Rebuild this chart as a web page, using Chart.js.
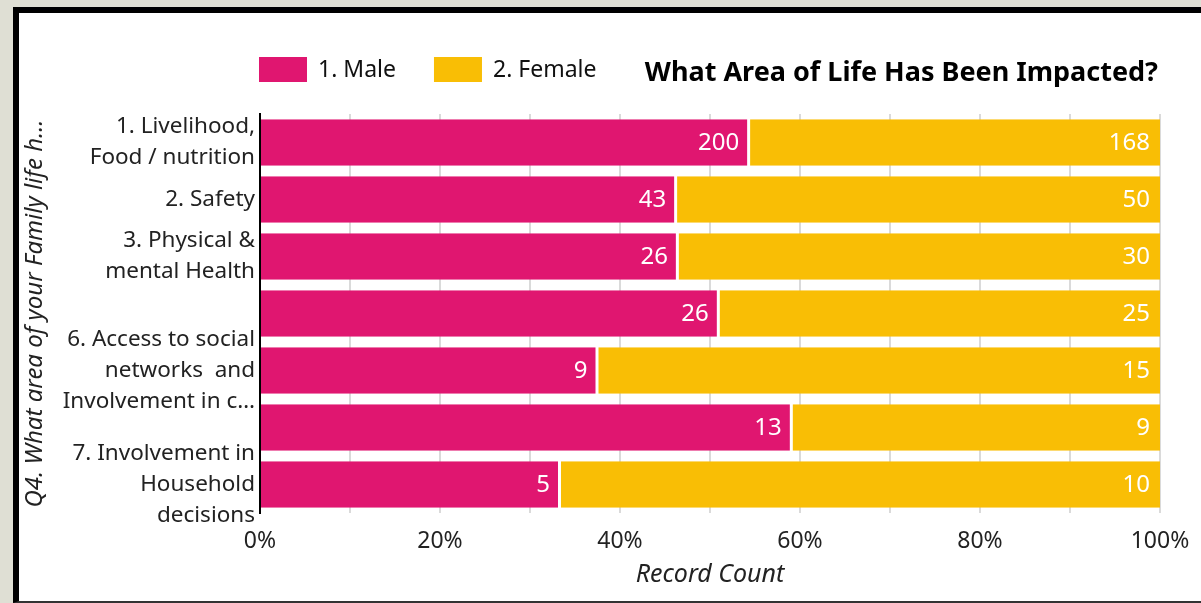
<!DOCTYPE html>
<html>
<head>
<meta charset="utf-8">
<script src="https://cdn.jsdelivr.net/npm/chart.js@4"></script>
<style>
  html, body { margin: 0; padding: 0; background: #dfdfd4; overflow: hidden; }
  .frame {
    position: absolute; left: 13px; top: 7px; width: 1200px; height: 588px;
    background: #fff; border-left: 6px solid #000; border-top: 6px solid #000;
    border-bottom: 2px solid #333;
  }
  #chart { display: block; }
</style>
</head>
<body>
<div class="frame"><canvas id="chart" width="1182" height="588"></canvas></div>
<script>
const categories = [
    ['1. Livelihood,', 'Food / nutrition'],
    '2. Safety',
    ['3. Physical &', 'mental Health'],
    '',
    ['6. Access to social', 'networks  and', 'Involvement in c\u2026'],
    '',
    ['7. Involvement in', 'Household', 'decisions']
];
const maleCounts = [200, 43, 26, 26, 9, 13, 5];
const femaleCounts = [168, 50, 30, 25, 15, 9, 10];
const seriesNames = ['1. Male', '2. Female'];
const seriesColors = ['#e01670', '#f9be05'];
const chartTitle = 'What Area of Life Has Been Impacted?';
const yAxisTitle = 'Q4. What area of your Family life h\u2026';
const xAxisTitle = 'Record Count';

const FONT = '"Noto Sans", "Open Sans", sans-serif';

function toPercent(counts) {
    return counts.map((v, i) => v / (maleCounts[i] + femaleCounts[i]) * 100);
}

// raw counts shown at the end of each segment
const valueLabels = {
    id: 'valueLabels',
    afterDatasetsDraw(chart) {
        const ctx = chart.ctx;
        ctx.save();
        ctx.font = '24px ' + FONT;
        ctx.fillStyle = '#fff';
        ctx.textAlign = 'right';
        ctx.textBaseline = 'middle';
        chart.data.datasets.forEach((ds, di) => {
            chart.getDatasetMeta(di).data.forEach((bar, i) => {
                ctx.fillText(String(ds.counts[i]), bar.x - 10, bar.y + 1);
            });
        });
        ctx.restore();
    }
};

// legend on the left and title on the right, same row
const headerRow = {
    id: 'headerRow',
    afterDraw(chart) {
        const ctx = chart.ctx;
        const area = chart.chartArea;
        ctx.save();
        ctx.textBaseline = 'middle';
        ctx.font = '23px ' + FONT;
        let x = area.left - 1;
        chart.data.datasets.forEach(ds => {
            ctx.fillStyle = ds.backgroundColor;
            ctx.fillRect(x, 44, 48, 25);
            ctx.fillStyle = '#111';
            ctx.textAlign = 'left';
            ctx.fillText(ds.label, x + 59, 57);
            x += 59 + ctx.measureText(ds.label).width + 38;
        });
        ctx.font = 'bold 27px ' + FONT;
        ctx.textAlign = 'right';
        ctx.fillStyle = '#000';
        ctx.fillText(chartTitle, area.right - 2, 60);
        ctx.restore();
    }
};

new Chart(document.getElementById('chart'), {
    type: 'bar',
    data: {
        labels: categories,
        datasets: [
            {
                label: seriesNames[0],
                data: toPercent(maleCounts),
                counts: maleCounts,
                backgroundColor: seriesColors[0],
                borderColor: '#fff',
                borderWidth: { top: 0, right: 2, bottom: 0, left: 0 },
                borderSkipped: false
            },
            {
                label: seriesNames[1],
                data: toPercent(femaleCounts),
                counts: femaleCounts,
                backgroundColor: seriesColors[1],
                borderColor: '#fff',
                borderWidth: { top: 0, right: 0, bottom: 0, left: 1 },
                borderSkipped: false
            }
        ]
    },
    options: {
        indexAxis: 'y',
        responsive: false,
        animation: false,
        layout: { padding: { top: 101, right: 41, bottom: 0, left: 0 } },
        barPercentage: 0.82,
        categoryPercentage: 1,
        plugins: {
            legend: { display: false },
            title: { display: false },
            tooltip: { enabled: false }
        },
        scales: {
            x: {
                stacked: true,
                min: 0,
                max: 100,
                afterFit: s => { s.height = 88; s.paddingLeft = 0; s.paddingRight = 0; },
                grid: { color: '#dadada', lineWidth: 2, drawTicks: false },
                border: { display: false },
                ticks: {
                    stepSize: 10,
                    padding: 15,
                    color: '#222',
                    font: { family: FONT, size: 23 },
                    maxRotation: 0,
                    autoSkip: false,
                    callback: v => (v % 20 === 0 ? v + '%' : '')
                },
                title: {
                    display: true,
                    text: xAxisTitle,
                    color: '#222',
                    padding: { top: 0, bottom: 11 },
                    font: { family: FONT, size: 25, style: 'italic' }
                }
            },
            y: {
                stacked: true,
                afterFit: s => { s.width = 241; },
                grid: { display: false, drawTicks: false },
                border: { display: true, color: '#000', width: 2 },
                ticks: {
                    autoSkip: false,
                    padding: 5,
                    color: '#222',
                    font: { family: FONT, size: 22.5, lineHeight: 1.38 }
                },
                title: {
                    display: true,
                    text: yAxisTitle,
                    color: '#222',
                    padding: { top: 2, bottom: 0 },
                    font: { family: FONT, size: 24, style: 'italic' }
                }
            }
        }
    },
    plugins: [valueLabels, headerRow]
});
</script>
</body>
</html>
